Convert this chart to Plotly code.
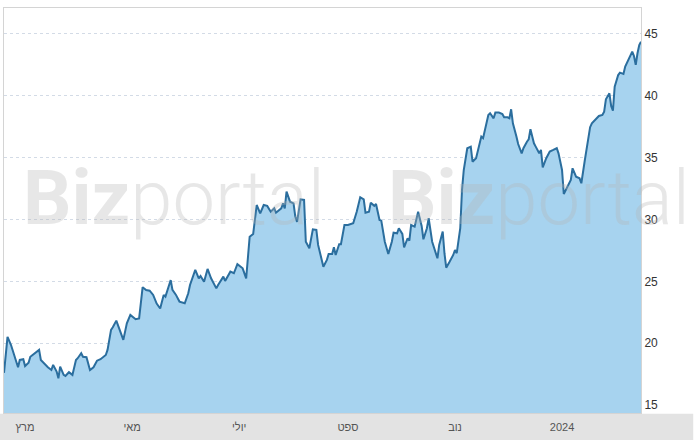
import pandas as pd
import plotly.graph_objects as go

start_date = "2023-02-15"

# day index (days since start_date) of each sampled close
day_offsets = [
    2, 4, 6, 8, 10, 11, 13, 14, 16, 17, 19, 22, 23, 25, 27, 29, 30, 32, 33, 34,
    36, 37, 39, 41, 43, 44, 46, 47, 49, 51, 53, 55, 57, 60, 61, 63, 64, 66, 68, 70,
    72, 74, 77, 79, 81, 83, 85, 87, 89, 91, 93, 94, 97, 98, 100, 102, 105, 107, 108, 111,
    113, 114, 116, 118, 120, 123, 124, 127, 128, 131, 133, 135, 138, 140, 142, 144, 146, 148, 150, 152,
    154, 156, 157, 160, 161, 162, 163, 165, 167, 168, 169, 171, 173, 174, 176, 178, 180, 181, 184, 186,
    187, 189, 190, 191, 193, 194, 196, 198, 201, 203, 205, 207, 208, 210, 211, 213, 214, 216, 217, 219,
    221, 223, 224, 226, 227, 229, 230, 232, 233, 234, 236, 238, 240, 241, 243, 244, 246, 249, 250, 252,
    253, 254, 256, 258, 259, 260, 262, 263, 264, 265, 266, 268, 269, 271, 273, 274, 275, 277, 278, 279,
    281, 282, 284, 286, 287, 289, 290, 291, 292, 294, 295, 297, 298, 300, 301, 302, 304, 305, 307, 308,
    309, 311, 313, 315, 317, 318, 320, 321, 323, 325, 326, 328, 330, 331, 333, 336, 337, 339, 341, 343,
    344, 345, 347, 348, 349, 350, 352, 353, 355, 356, 358, 359, 360, 361, 362, 363, 364, 365,
]

prices = [
    17.6, 20.5, 19.85, 19.04, 18.05, 18.64, 18.7, 18.15, 18.42, 18.9, 19.1, 19.45, 18.64, 18.3, 18.05, 17.83, 18.24, 17.7, 17.16, 18.1,
    17.43, 17.35, 17.65, 17.43, 18.64, 18.78, 19.18, 18.9, 18.86, 17.83, 18.05, 18.58, 18.7, 19.04, 19.45, 21.07, 21.28, 21.82, 21.07, 20.26,
    21.6, 22.28, 21.93, 22.0, 24.52, 24.3, 24.24, 23.9, 23.2, 22.8, 23.9, 23.76, 25.1, 24.3, 23.9, 23.36, 23.22, 24.03, 24.7, 25.92,
    25.24, 25.43, 24.97, 26.0, 25.24, 24.43, 24.7, 25.38, 25.03, 25.78, 25.65, 26.38, 26.05, 25.24, 28.6, 28.83, 31.17, 30.5, 31.17, 31.1,
    30.63, 30.9, 30.55, 30.9, 31.3, 30.9, 32.25, 31.44, 31.3, 30.23, 29.8, 31.63, 31.58, 28.2, 27.67, 29.2, 29.15, 27.94, 26.18, 26.73,
    27.21, 27.21, 27.75, 27.13, 28.0, 28.0, 29.55, 29.55, 29.69, 30.63, 31.8, 31.63, 30.55, 30.63, 31.36, 31.1, 31.25, 29.96, 29.9, 28.2,
    27.21, 28.2, 28.93, 28.88, 29.29, 28.83, 27.75, 28.48, 28.29, 29.55, 29.42, 30.63, 29.48, 28.4, 29.29, 30.1, 28.2, 26.86, 27.94, 29.02,
    27.27, 26.1, 26.6, 27.13, 27.53, 27.27, 29.29, 32.4, 34.0, 35.08, 35.76, 35.89, 34.67, 34.95, 36.29, 36.7, 36.57, 37.9, 38.45, 38.59,
    38.18, 38.64, 38.64, 38.53, 38.26, 38.26, 38.18, 38.91, 37.78, 36.7, 36.1, 35.35, 35.76, 36.29, 36.48, 37.3, 36.16, 35.89, 35.35, 35.62,
    34.22, 34.95, 35.49, 35.62, 35.76, 35.35, 34.0, 32.06, 32.65, 33.2, 34.14, 33.46, 33.33, 32.93, 34.81, 37.46, 37.78, 38.1, 38.37, 38.45,
    38.72, 39.72, 40.2, 39.18, 38.8, 40.74, 41.68, 41.87, 41.77, 42.36, 42.9, 43.22, 43.57, 43.22, 42.5, 43.44, 44.1, 44.38,
]

tick_dates = ["2023-03-01", "2023-05-01", "2023-07-01", "2023-09-01", "2023-11-01", "2024-01-01"]
tick_labels = ["מרץ", "מאי", "יולי", "ספט", "נוב", "2024"]

y_min, y_max = 14.35, 47.1
watermark_text = "<b>Biz</b><span style='font-weight:300'>portal</span>"

base = pd.Timestamp(start_date)
dates = base + pd.to_timedelta(day_offsets, unit="D")
x_range = [base + pd.Timedelta(days=day_offsets[0]), base + pd.Timedelta(days=day_offsets[-1])]

fig = go.Figure()
fig.add_trace(go.Scatter(
    x=dates, y=prices, mode="lines",
    line=dict(color="#2b6e9e", width=2),
    fill="tozeroy", fillcolor="#a7d3ef",
    hoverinfo="x+y", showlegend=False,
))

for xp in (0.027, 0.6):
    fig.add_annotation(
        text=watermark_text, xref="paper", yref="paper", x=xp, y=0.532,
        xanchor="left", yanchor="middle", showarrow=False,
        font=dict(family="Roboto, Liberation Sans, Arial, sans-serif", size=76,
                  color="rgba(180,180,180,0.32)"),
    )

fig.add_shape(type="rect", xref="paper", yref="paper",
              x0=-0.008, x1=1.082, y0=-0.07, y1=-0.002,
              fillcolor="#e3e3e3", line=dict(width=0), layer="below")

fig.update_layout(
    width=698, height=440, autosize=False,
    margin=dict(l=4, r=57, t=8, b=27),
    paper_bgcolor="white", plot_bgcolor="white",
    font=dict(family="Liberation Sans, Arial, sans-serif", color="#333"),
    xaxis=dict(
        type="date", range=x_range,
        tickvals=tick_dates, ticktext=tick_labels,
        showgrid=False, zeroline=False, ticks="",
        showline=True, linecolor="#d4d4d4", linewidth=1, mirror=True,
        tickfont=dict(size=11, color="#555"), ticklabelstandoff=4,
    ),
    yaxis=dict(
        side="right", range=[y_min, y_max], tick0=15, dtick=5,
        showgrid=True, gridcolor="#d3dbe6", griddash="dot", gridwidth=1,
        zeroline=False, ticks="",
        showline=True, linecolor="#d4d4d4", linewidth=1, mirror=True,
        tickfont=dict(size=12, color="#333"),
    ),
)

fig.write_html("out.html", config={"displayModeBar": False},
               post_script="document.body.style.margin='0';")
